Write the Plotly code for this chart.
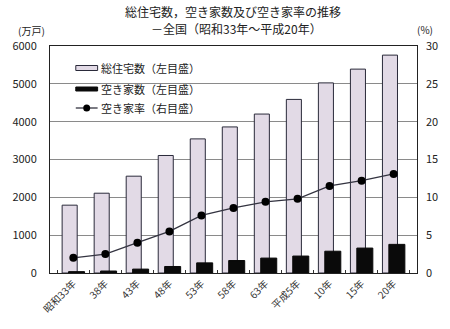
import plotly.graph_objects as go

# 調査年
years = ["昭和33年", "38年", "43年", "48年", "53年", "58年", "63年",
         "平成5年", "10年", "15年", "20年"]
# 総住宅数（万戸）
total_houses = [1793, 2109, 2559, 3106, 3545, 3861, 4201, 4588, 5025, 5389, 5759]
# 空き家数（万戸）
vacant_houses = [36, 52, 103, 172, 268, 330, 394, 448, 576, 659, 757]
# 空き家率（％）
vacancy_rate = [2.0, 2.5, 4.0, 5.5, 7.6, 8.6, 9.4, 9.8, 11.5, 12.2, 13.1]

JP = "Noto Sans CJK JP"
NUM = "Liberation Sans Narrow, Arial Narrow, Noto Sans CJK JP"
LAV = "#e2dae6"

W, H = 450, 329
ML, MR, MT, MB = 49, 31, 46, 56
PW, PH = W - ML - MR, H - MT - MB


def px(x):
    """Horizontal pixel -> paper coordinate."""
    return (x - ML) / PW


def py(y):
    """Vertical pixel (from top) -> paper coordinate."""
    return (H - MB - y) / PH


fig = go.Figure()
fig.add_trace(go.Bar(
    x=years, y=total_houses, name="総住宅数（左目盛）",
    marker=dict(color=LAV, line=dict(color="#2a2a3a", width=1)),
    width=0.47, offset=-0.35, showlegend=False,
))
fig.add_trace(go.Bar(
    x=years, y=vacant_houses, name="空き家数（左目盛）",
    marker=dict(color="#0a0a0a", line=dict(color="#0a0a0a", width=1)),
    width=0.5, offset=-0.15, showlegend=False,
))
fig.add_trace(go.Scatter(
    x=years, y=vacancy_rate, name="空き家率（右目盛）", yaxis="y2",
    mode="lines+markers",
    line=dict(color="#333340", width=1.3),
    marker=dict(color="#000000", size=8),
    showlegend=False,
))

# 凡例（プロット内左上）
legend_rows = [
    ("box", "総住宅数（左目盛）", 68),
    ("solid", "空き家数（左目盛）", 89),
    ("line", "空き家率（右目盛）", 108),
]
shapes = []
annotations = []
for kind, label, ypx in legend_rows:
    if kind == "box":
        shapes.append(dict(type="rect", xref="paper", yref="paper",
                           x0=px(75), x1=px(97), y0=py(ypx + 2.5), y1=py(ypx - 2.5),
                           fillcolor=LAV, line=dict(color="#2a2a3a", width=1)))
    elif kind == "solid":
        shapes.append(dict(type="rect", xref="paper", yref="paper",
                           x0=px(75), x1=px(97), y0=py(ypx + 2), y1=py(ypx - 2),
                           fillcolor="#0a0a0a", line=dict(color="#0a0a0a", width=1)))
    else:
        shapes.append(dict(type="line", xref="paper", yref="paper",
                           x0=px(75), x1=px(97), y0=py(ypx), y1=py(ypx),
                           line=dict(color="#333340", width=1.3)))
        shapes.append(dict(type="circle", xref="paper", yref="paper",
                           x0=px(82.5), x1=px(89.5),
                           y0=py(ypx + 3.5), y1=py(ypx - 3.5),
                           fillcolor="#000", line=dict(color="#000", width=0)))
    annotations.append(dict(xref="paper", yref="paper", x=px(98), y=py(ypx),
                            xanchor="left", yanchor="middle", showarrow=False,
                            text=label, font=dict(family=JP, size=11, color="#222")))

annotations += [
    dict(xref="paper", yref="paper", x=px(233), y=py(12),
         xanchor="center", yanchor="middle", showarrow=False,
         text="総住宅数，空き家数及び空き家率の推移",
         font=dict(family=JP, size=12, color="#222")),
    dict(xref="paper", yref="paper", x=px(237), y=py(28),
         xanchor="center", yanchor="middle", showarrow=False,
         text="－全国（昭和33年～平成20年）",
         font=dict(family=JP, size=12, color="#222")),
    dict(xref="paper", yref="paper", x=px(30), y=py(31),
         xanchor="center", yanchor="middle", showarrow=False,
         text="(万戸)", font=dict(family=JP, size=10, color="#222")),
    dict(xref="paper", yref="paper", x=px(427), y=py(29),
         xanchor="center", yanchor="middle", showarrow=False,
         text="(%)", font=dict(family=JP, size=10, color="#222")),
]

fig.update_layout(
    width=W, height=H,
    margin=dict(l=ML, r=MR, t=MT, b=MB),
    paper_bgcolor="white", plot_bgcolor="white",
    barmode="overlay",
    shapes=shapes, annotations=annotations,
    xaxis=dict(
        type="category", tickangle=-45,
        tickfont=dict(family=JP, size=10, color="#333"),
        showline=True, linecolor="#222", linewidth=1, mirror=True,
        ticks="inside", ticklen=3, tickcolor="#333",
        tickson="boundaries", showgrid=False,
    ),
    yaxis=dict(
        range=[0, 6000], dtick=1000,
        tickfont=dict(family=NUM, size=11, color="#222"),
        showgrid=True, gridcolor="#8a8a8a", gridwidth=1,
        showline=True, linecolor="#222", linewidth=1, mirror=True,
        ticks="", ticklabelstandoff=10, zeroline=False,
    ),
    yaxis2=dict(
        range=[0, 30], dtick=5, overlaying="y", side="right",
        tickfont=dict(family=NUM, size=11, color="#222"),
        showgrid=False, showline=False, ticks="", zeroline=False,
        ticklabelstandoff=8,
    ),
)

fig.write_html("out.html")
